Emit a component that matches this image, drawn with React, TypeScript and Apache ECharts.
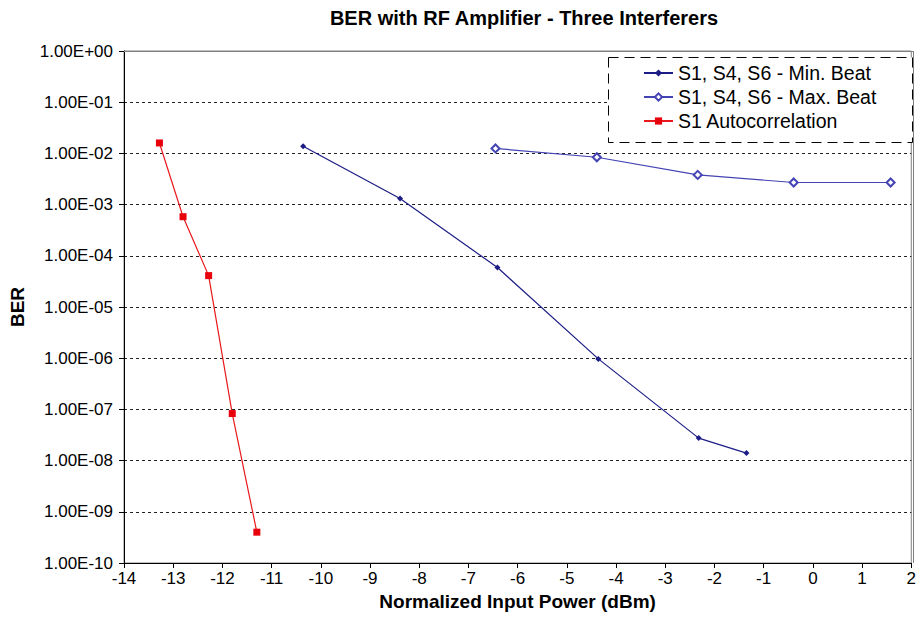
import React, { useEffect, useRef } from "react";
import * as echarts from "echarts";

// Normalized input power (dBm) and measured BER for each configuration
const minBeatPower = [-10.36, -8.39, -6.41, -4.36, -2.32, -1.35];
const minBeatBER = [1.38e-2, 1.32e-3, 5.9e-5, 9.7e-7, 2.75e-8, 1.4e-8];

const maxBeatPower = [-6.45, -4.39, -2.34, -0.39, 1.58];
const maxBeatBER = [1.25e-2, 8.4e-3, 3.8e-3, 2.7e-3, 2.7e-3];

const autoPower = [-13.28, -12.8, -12.28, -11.8, -11.3];
const autoBER = [1.6e-2, 5.8e-4, 4.1e-5, 8.3e-8, 4.0e-10];

const seriesNames = [
  "S1, S4, S6 - Min. Beat",
  "S1, S4, S6 - Max. Beat",
  "S1 Autocorrelation",
];

// BER axis labels, from 1E-10 up to 1E+00
const berTickLabels = [
  "1.00E-10",
  "1.00E-09",
  "1.00E-08",
  "1.00E-07",
  "1.00E-06",
  "1.00E-05",
  "1.00E-04",
  "1.00E-03",
  "1.00E-02",
  "1.00E-01",
  "1.00E+00",
];

const FONT = "'Liberation Sans', Arial, sans-serif";

const zip = (xs: number[], ys: number[]) => xs.map((x, i) => [x, ys[i]]);

export default function App() {
  const ref = useRef<HTMLDivElement>(null);

  useEffect(() => {
    if (!ref.current) return;
    const chart = echarts.init(ref.current, undefined, { renderer: "svg" });

    const gridLeft = 124;
    const gridTop = 51;
    const gridRight = 913;
    const gridBottom = 563;

    chart.setOption({
      animation: false,
      backgroundColor: "#ffffff",
      title: {
        text: "BER with RF Amplifier - Three Interferers",
        left: 524,
        top: 8,
        padding: 0,
        textAlign: "center",
        textStyle: {
          fontFamily: FONT,
          fontWeight: "bold",
          fontSize: 20,
          color: "#000",
        },
      },
      grid: {
        left: gridLeft,
        top: gridTop,
        right: 919 - gridRight,
        bottom: 629 - gridBottom,
        show: true,
        borderColor: "#808080",
        borderWidth: 1,
      },
      legend: {
        orient: "vertical",
        left: 643,
        top: 63,
        padding: 0,
        itemGap: 4,
        itemWidth: 29,
        itemHeight: 9,
        data: seriesNames,
        textStyle: { fontFamily: FONT, fontSize: 19.5, color: "#000" },
        z: 10,
      },
      xAxis: {
        type: "value",
        min: -14,
        max: 2,
        interval: 1,
        name: "Normalized Input Power (dBm)",
        nameLocation: "middle",
        nameGap: 25,
        nameTextStyle: {
          fontFamily: FONT,
          fontWeight: "bold",
          fontSize: 19,
          color: "#000",
        },
        axisLine: { show: true, onZero: false, lineStyle: { color: "#000", width: 1 } },
        axisTick: { show: true, length: 5, lineStyle: { color: "#000" } },
        axisLabel: { fontFamily: FONT, fontSize: 17, color: "#000", margin: 7 },
        splitLine: { show: false },
      },
      yAxis: {
        type: "log",
        logBase: 10,
        min: 1e-10,
        max: 1,
        interval: 1,
        name: "BER",
        nameLocation: "middle",
        nameGap: 97,
        nameRotate: 90,
        nameTextStyle: {
          fontFamily: FONT,
          fontWeight: "bold",
          fontSize: 19,
          color: "#000",
        },
        axisLine: { show: true, onZero: false, lineStyle: { color: "#000", width: 1 } },
        axisTick: { show: true, length: 5, lineStyle: { color: "#000" } },
        axisLabel: {
          fontFamily: FONT,
          fontSize: 17,
          color: "#000",
          margin: 11,
          formatter: (v: number) => {
            const e = Math.round(Math.log10(v));
            return berTickLabels[e + 10] ?? "";
          },
        },
        splitLine: {
          show: true,
          lineStyle: { color: "#222", width: 1, type: [3, 3] },
        },
      },
      graphic: [
        // plot area top and right border over the gridline
        {
          type: "line",
          z: 5,
          shape: { x1: gridLeft, y1: gridTop + 0.5, x2: gridRight, y2: gridTop + 0.5 },
          style: { stroke: "#808080", lineWidth: 1 },
        },
        {
          type: "line",
          z: 5,
          shape: { x1: gridRight + 0.5, y1: gridTop, x2: gridRight + 0.5, y2: gridBottom },
          style: { stroke: "#808080", lineWidth: 1 },
        },
        // legend frame
        {
          type: "rect",
          z: 6,
          shape: { x: 608.5, y: 57.5, width: 304, height: 85 },
          style: { fill: "#ffffff", stroke: "#000", lineWidth: 1, lineDash: [10, 6] },
        },
      ],
      series: [
        {
          name: seriesNames[0],
          type: "line",
          data: zip(minBeatPower, minBeatBER),
          symbol: "diamond",
          symbolSize: 6,
          lineStyle: { color: "#1c1c86", width: 1.2 },
          itemStyle: { color: "#1c1c86" },
          z: 3,
        },
        {
          name: seriesNames[1],
          type: "line",
          data: zip(maxBeatPower, maxBeatBER),
          symbol: "emptyDiamond",
          symbolSize: 8,
          lineStyle: { color: "#4343b4", width: 1.2 },
          itemStyle: { color: "#4343b4", borderWidth: 1 },
          z: 3,
        },
        {
          name: seriesNames[2],
          type: "line",
          data: zip(autoPower, autoBER),
          symbol: "rect",
          symbolSize: 7,
          lineStyle: { color: "#e8181c", width: 1.2 },
          itemStyle: { color: "#e8000b" },
          z: 3,
        },
      ],
    });

    return () => chart.dispose();
  }, []);

  return (
    <div
      ref={ref}
      style={{ position: "absolute", left: 0, top: 0, width: 919, height: 629 }}
    />
  );
}
